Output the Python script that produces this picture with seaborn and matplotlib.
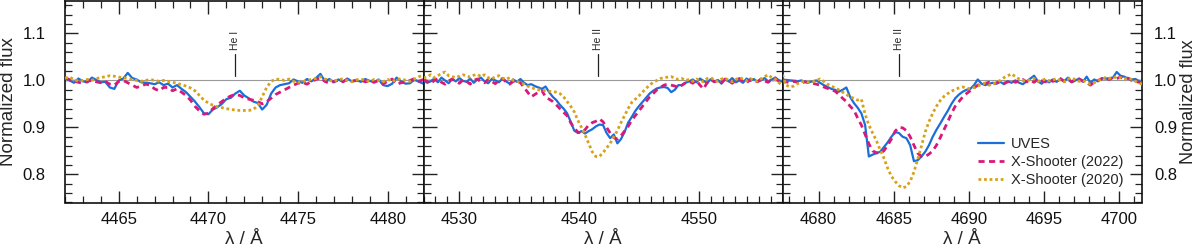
import numpy as np
import pandas as pd
import matplotlib
matplotlib.use('Agg')
import matplotlib.pyplot as plt
import seaborn as sns
from matplotlib.ticker import MultipleLocator

# ---------------- data ----------------
series_names = ['UVES', 'X-Shooter (2022)', 'X-Shooter (2020)']
line_labels = ['He I', 'He II', 'He II']
line_waves = [4471.5, 4541.6, 4685.35]

# panel 1: He I 4471 (grid start, step)
p1_start, p1_step = 4462.0, 0.25
uves_p1 = [1.005, 1.000, 0.995, 1.004, 0.998, 0.996, 1.006, 1.001, 0.996, 0.997,
           0.985, 0.982, 1.000, 1.004, 1.016, 1.005, 1.002, 0.996, 0.995, 0.994,
           0.992, 0.996, 0.990, 0.993, 0.985, 0.990, 0.982, 0.975, 0.965, 0.955,
           0.943, 0.930, 0.928, 0.938, 0.943, 0.950, 0.960, 0.963, 0.972, 0.978,
           0.968, 0.962, 0.955, 0.952, 0.938, 0.948, 0.972, 0.985, 0.990, 0.992,
           0.994, 1.002, 0.998, 0.995, 1.003, 0.998, 1.005, 1.014, 0.998, 1.003,
           0.996, 1.002, 0.997, 1.004, 0.998, 1.001, 0.997, 1.003, 0.999, 0.996,
           1.002, 0.990, 0.988, 0.993, 1.006, 0.998, 0.993, 0.994, 1.002, 0.997,
           0.993]
xs22_p1 = [1.005, 1.002, 0.998, 0.996, 0.994, 0.998, 1.000, 0.997, 0.995, 0.998,
           0.992, 0.990, 0.998, 1.000, 0.995, 0.990, 0.985, 0.988, 0.992, 0.990,
           0.982, 0.978, 0.985, 0.985, 0.978, 0.982, 0.975, 0.968, 0.958, 0.945,
           0.935, 0.928, 0.930, 0.940, 0.948, 0.955, 0.962, 0.967, 0.970, 0.968,
           0.963, 0.960, 0.958, 0.955, 0.950, 0.955, 0.962, 0.970, 0.975, 0.980,
           0.985, 0.990, 0.994, 0.996, 0.992, 0.998, 1.002, 1.006, 0.998, 0.994,
           0.998, 1.000, 0.997, 1.002, 0.998, 1.000, 1.001, 0.997, 0.999, 0.996,
           1.000, 0.993, 0.998, 1.003, 0.992, 0.995, 0.997, 1.000, 1.004, 0.998,
           1.002]
xs20_p1 = [1.005, 1.007, 1.002, 0.998, 1.000, 1.002, 1.000, 1.004, 1.006, 1.008,
           1.010, 1.009, 1.007, 1.006, 1.004, 1.002, 1.000, 0.998, 1.000, 1.002,
           1.000, 0.998, 1.000, 0.998, 0.996, 0.994, 0.991, 0.988, 0.984, 0.978,
           0.968, 0.958, 0.952, 0.947, 0.944, 0.942, 0.940, 0.938, 0.937, 0.936,
           0.936, 0.936, 0.938, 0.946, 0.965, 0.985, 0.998, 1.003, 1.002, 1.000,
           1.003, 0.998, 0.996, 0.997, 1.000, 1.002, 1.004, 1.008, 1.003, 1.000,
           0.998, 1.002, 1.003, 1.000, 0.997, 1.001, 1.003, 1.000, 0.998, 1.002,
           1.000, 0.997, 1.002, 0.998, 1.001, 1.004, 1.000, 0.998, 1.003, 1.008,
           1.012]

# panel 2: He II 4541
p2_start, p2_step = 4527.0, 0.3
uves_p2 = [1.000, 0.995, 0.998, 1.004, 0.996, 1.006, 1.000, 0.994, 1.003, 0.998,
           1.005, 0.999, 0.997, 1.004, 0.995, 1.002, 1.006, 0.998, 0.994, 1.003,
           1.000, 0.996, 1.004, 0.998, 0.993, 1.002, 0.997, 1.003, 0.995, 0.990,
           0.992, 0.988, 0.985, 0.982, 0.987, 0.975, 0.965, 0.958, 0.948, 0.940,
           0.930, 0.912, 0.893, 0.888, 0.892, 0.887, 0.892, 0.896, 0.902, 0.906,
           0.905, 0.888, 0.877, 0.885, 0.866, 0.875, 0.890, 0.910, 0.922, 0.935,
           0.945, 0.954, 0.963, 0.972, 0.978, 0.983, 0.985, 0.986, 0.984, 0.975,
           0.980, 0.990, 0.990, 0.995,
           0.998, 1.002, 0.996, 1.004, 0.999, 0.994, 1.003, 0.997, 1.001, 0.993,
           1.002, 0.998, 1.005, 0.996, 1.000, 0.995, 1.004, 0.999, 1.003, 0.997,
           1.000, 1.005, 0.998, 1.002, 1.006, 1.000, 0.997]
xs22_p2 = [1.002, 0.998, 0.993, 1.000, 1.004, 0.996, 0.992, 0.999, 1.003, 0.997,
           0.994, 1.001, 0.998, 0.992, 1.000, 1.003, 0.997, 0.995, 1.002, 0.998,
           0.993, 1.000, 1.004, 0.997, 0.992, 0.998, 1.000, 0.995, 0.985, 0.975,
           0.965, 0.970, 0.975, 0.978, 0.965, 0.960, 0.955, 0.948, 0.940, 0.932,
           0.925, 0.910, 0.898, 0.890, 0.888, 0.895, 0.905, 0.910, 0.913, 0.918,
           0.912, 0.900, 0.888, 0.878, 0.875, 0.882, 0.892, 0.902, 0.915, 0.925,
           0.935, 0.945, 0.955, 0.965, 0.972, 0.980, 0.985, 0.990, 0.992, 0.990,
           0.988, 0.985, 0.990, 0.995,
           0.998, 0.994, 1.000, 0.990, 0.982, 0.995, 1.002, 0.997, 1.000, 0.996,
           1.003, 0.999, 0.994, 1.001, 1.004, 0.998, 0.995, 1.002, 1.000, 0.997,
           1.003, 0.999, 0.996, 1.002, 1.005, 0.998, 0.992]
xs20_p2 = [1.005, 1.008, 1.012, 1.006, 1.010, 1.015, 1.018, 1.010, 1.008, 1.006,
           1.009, 1.012, 1.010, 1.007, 1.011, 1.013, 1.008, 1.012, 1.006, 1.003,
           1.008, 1.010, 1.005, 1.002, 1.006, 1.000, 0.998, 0.995, 0.992, 0.988,
           0.985, 0.982, 0.980, 0.979, 0.978, 0.977, 0.976, 0.975, 0.972, 0.965,
           0.955, 0.945, 0.933, 0.915, 0.900, 0.884, 0.866, 0.848, 0.838, 0.838,
           0.846, 0.856, 0.866, 0.880, 0.893, 0.910, 0.925, 0.940, 0.953, 0.960,
           0.967, 0.975, 0.983, 0.990, 0.996, 1.000, 1.004, 1.006, 1.007, 1.008,
           1.005, 1.002, 1.004, 1.000,
           1.002, 0.998, 1.003, 1.000, 0.997, 1.004, 1.006, 1.001, 0.998, 1.003,
           1.005, 1.000, 0.997, 1.002, 1.006, 1.003, 0.999, 1.004, 1.000, 0.998,
           1.003, 1.008, 1.012, 1.006, 1.003, 0.995, 0.990]

# panel 3: He II 4686
p3_start, p3_step = 4677.6, 0.25
uves_p3 = [1.002, 1.001, 1.000, 0.999, 0.998, 1.000, 0.997, 0.996, 0.998, 1.000,
           0.995, 0.990, 0.986, 0.982, 0.980, 0.976, 0.980, 0.985, 0.965, 0.952,
           0.942, 0.930, 0.905, 0.838, 0.842, 0.845, 0.848, 0.858, 0.868, 0.880,
           0.890, 0.888, 0.880, 0.877, 0.862, 0.828, 0.830, 0.838, 0.848, 0.862,
           0.880, 0.895, 0.908, 0.922, 0.935, 0.950, 0.962, 0.970, 0.976, 0.980,
           0.982, 0.990, 1.002, 0.993, 0.990, 0.993, 0.995, 0.993, 0.997, 0.992,
           0.998, 0.995, 1.000, 0.995, 0.992, 0.998, 1.004, 1.010, 0.998, 0.993,
           1.000, 0.996, 1.002, 0.997, 1.003, 0.998, 1.006, 0.996, 1.000, 1.004,
           0.997, 1.008, 0.995, 1.002, 0.998, 1.005, 1.004, 1.004, 1.006, 1.018,
           1.010, 1.008, 1.004, 1.002, 1.003, 0.998, 0.996]
xs22_p3 = [0.996, 0.997, 0.995, 0.998, 0.996, 0.994, 0.997, 0.995, 0.994, 0.992,
           0.990, 0.986, 0.983, 0.980, 0.977, 0.970, 0.962, 0.955, 0.945, 0.937,
           0.920, 0.905, 0.885, 0.865, 0.850, 0.846, 0.845, 0.850, 0.862, 0.875,
           0.892, 0.900, 0.899, 0.893, 0.880, 0.862, 0.845, 0.838, 0.838, 0.843,
           0.850, 0.862, 0.878, 0.895, 0.912, 0.930, 0.945, 0.955, 0.965, 0.972,
           0.978, 0.984, 0.990, 0.992, 0.994, 0.996, 0.992, 0.995, 0.998, 0.994,
           0.997, 1.000, 0.996, 0.999, 1.002, 0.997, 1.000, 0.996, 1.003, 0.999,
           0.997, 1.002, 0.998, 1.001, 1.004, 0.998, 1.002, 0.997, 1.001, 1.003,
           0.999, 0.995, 0.990, 0.996, 1.000, 1.003, 1.005, 1.002, 1.006, 1.004,
           1.007, 1.003, 1.005, 1.000, 0.998, 0.996, 0.994]
xs20_p3 = [1.012, 0.990, 0.986, 0.988, 0.993, 0.997, 0.998, 0.996, 0.997, 1.000,
           1.003, 0.998, 0.992, 0.988, 0.984, 0.980, 0.975, 0.970, 0.965, 0.962,
           0.958, 0.960, 0.928, 0.905, 0.888, 0.872, 0.852, 0.835, 0.813, 0.796,
           0.785, 0.776, 0.771, 0.774, 0.785, 0.805, 0.832, 0.860, 0.890, 0.912,
           0.930, 0.945, 0.957, 0.966, 0.972, 0.977, 0.981, 0.984, 0.986, 0.984,
           0.982, 0.985, 0.988, 0.992, 0.994, 0.990, 0.992, 0.996, 1.000, 1.006,
           1.010, 1.014, 1.008, 1.003, 1.000, 0.998, 1.002, 1.004, 0.998, 1.000,
           1.003, 0.999, 1.001, 1.004, 1.000, 0.997, 1.003, 1.006, 1.001, 0.998,
           1.000, 0.996, 0.992, 0.995, 1.000, 1.003, 1.006, 1.004, 1.008, 1.005,
           1.006, 1.003, 1.005, 1.002, 0.998, 0.995, 0.990]

panel_xlims = [(4462.0, 4482.0), (4527.0, 4557.0), (4677.6, 4701.5)]
panel_major = [5, 10, 5]

# ---------------- style ----------------
sns.set_theme(style='ticks')
plt.rcParams['font.family'] = ['Liberation Sans', 'DejaVu Sans']
plt.rcParams['axes.linewidth'] = 1.2

colors = ['#1a6fd8', '#d8197a', '#d6a21a']
styles = ['-', (0, (2.2, 1.6)), (0, (1, 1))]
widths = [1.6, 2.0, 2.0]

fig = plt.figure(figsize=(12, 2.5), dpi=100)
W, H = 1200.0, 250.0
lefts = [65.0, 423.5, 782.5]
pw = [358.5, 359.0, 359.0]
bottom = (H - 202.5) / H
top = 1.0 - 0.6 / H

panels = [
    (p1_start, p1_step, [uves_p1, xs22_p1, xs20_p1]),
    (p2_start, p2_step, [uves_p2, xs22_p2, xs20_p2]),
    (p3_start, p3_step, [uves_p3, xs22_p3, xs20_p3]),
]

axes = []
for k, (start, step, data) in enumerate(panels):
    ax = fig.add_axes([lefts[k] / W, bottom, pw[k] / W, top - bottom])
    axes.append(ax)
    ax.axhline(1.0, color='#9a9a9a', lw=0.8, zorder=1)
    for j, flux in enumerate(data):
        wave = start + step * np.arange(len(flux))
        df = pd.DataFrame({'wave': wave, 'flux': flux})
        sns.lineplot(data=df, x='wave', y='flux', ax=ax, color=colors[j],
                     linestyle=styles[j], lw=widths[j], label=series_names[j],
                     estimator=None, legend=False, zorder=3 + j)
    ax.set_xlim(*panel_xlims[k])
    ax.set_ylim(0.74, 1.17)
    ax.xaxis.set_major_locator(MultipleLocator(panel_major[k]))
    ax.xaxis.set_minor_locator(MultipleLocator(1))
    ax.yaxis.set_major_locator(MultipleLocator(0.1))
    ax.yaxis.set_minor_locator(MultipleLocator(0.02))
    ax.tick_params(which='both', direction='in', top=True, bottom=True,
                   left=True, right=True, labelsize=12, colors='#222222',
                   labelcolor='#111111')
    ax.tick_params(which='major', length=9, width=1.0)
    ax.tick_params(axis='x', which='major', pad=7)
    ax.tick_params(which='minor', length=5, width=0.9)
    ax.set_xlabel('λ / Å', fontsize=13.5, labelpad=3)
    ax.set_ylabel('')
    if k == 0:
        ax.set_ylabel('Normalized flux', fontsize=13.5, labelpad=4)
        ax.tick_params(axis='y', labelleft=True, labelright=False, pad=14)
    elif k == 1:
        ax.tick_params(labelleft=False, labelright=False)
    else:
        ax.tick_params(axis='y', labelleft=False, labelright=True, pad=9)
        ax.yaxis.set_label_position('right')
        ax.set_ylabel('Normalized flux', fontsize=13, labelpad=2)
    # line identification
    ax.plot([line_waves[k], line_waves[k]], [1.009, 1.057], color='#222222', lw=0.9)
    ax.text(line_waves[k], 1.064, line_labels[k], rotation=90, ha='center',
            va='bottom', fontsize=7.5,
            family=['Liberation Sans Narrow', 'Liberation Sans', 'DejaVu Sans'])
    for s in ax.spines.values():
        s.set_linewidth(1.2)
        s.set_color('#111111')

h, l = axes[2].get_legend_handles_labels()
axes[2].legend(h, l, loc='lower right', bbox_to_anchor=(0.975, 0.035),
               frameon=False, fontsize=10.5, handlelength=1.75,
               labelspacing=0.25, handletextpad=0.5, borderaxespad=0.2)

fig.savefig('out.png', dpi=100)
